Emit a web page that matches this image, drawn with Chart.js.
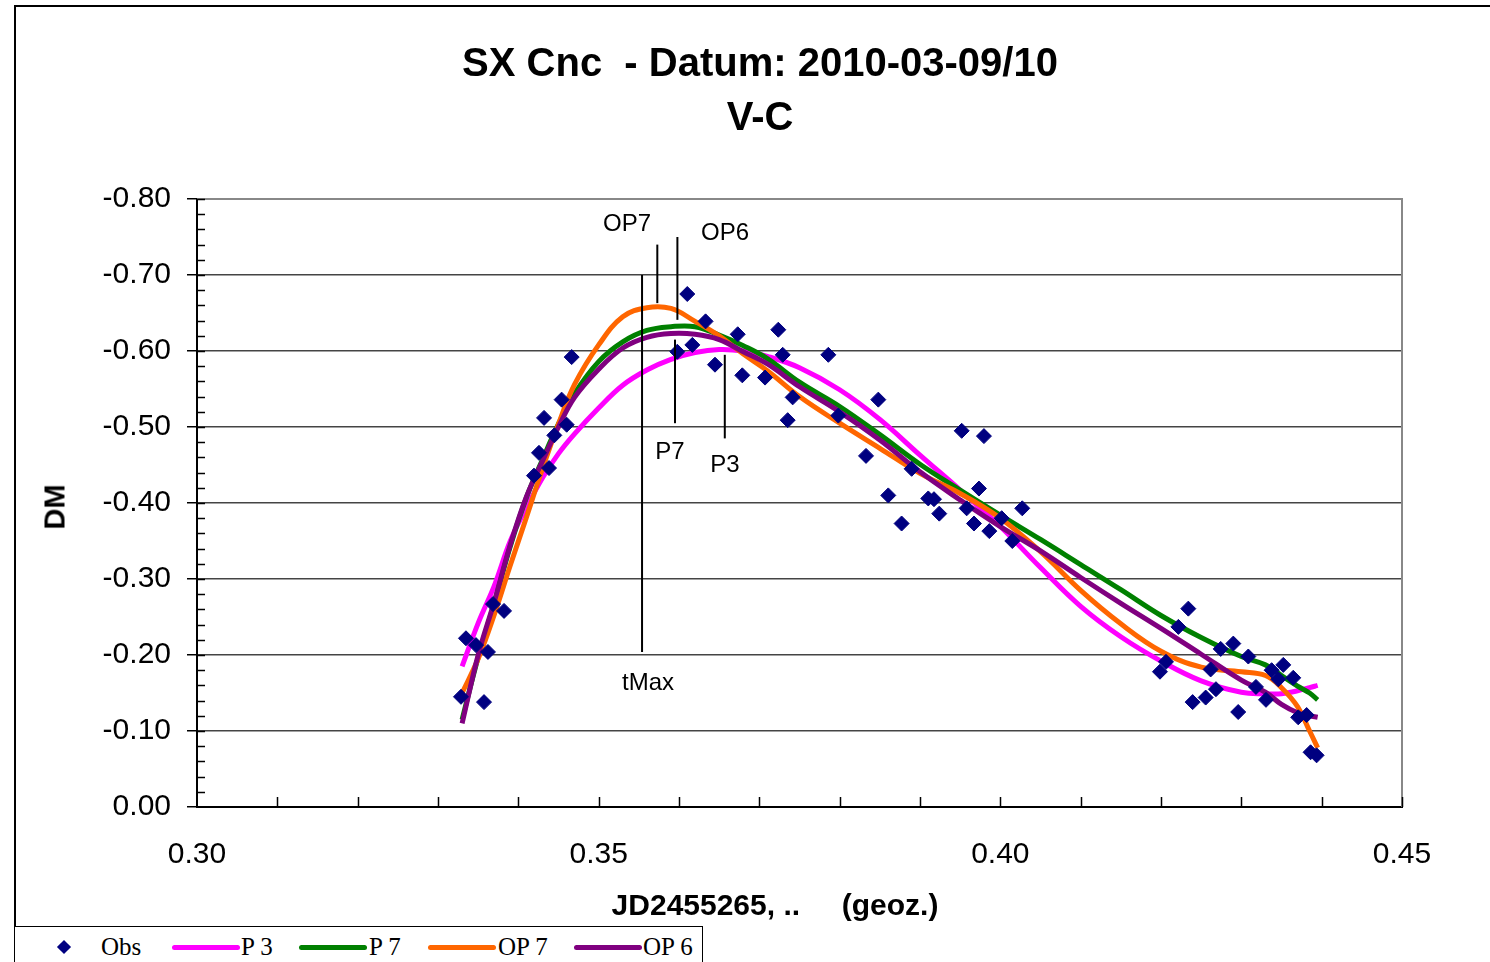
<!DOCTYPE html>
<html>
<head>
<meta charset="utf-8">
<script src="https://cdn.jsdelivr.net/npm/chart.js@4.4.1/dist/chart.umd.min.js"></script>
<style>
  body { margin: 0; width: 1490px; height: 962px; overflow: hidden; background: #fff; font-family: 'Liberation Sans', Arial, sans-serif; position: relative; }
  #frame { position: absolute; left: 14px; top: 5px; width: 1600px; height: 1100px; border-left: 2px solid #000; border-top: 2px solid #000; }
  #chart { position: absolute; left: 0; top: 0; }
  .title { position: absolute; left: 0; top: 35px; width: 1520px; text-align: center; font-weight: bold; font-size: 40px; line-height: 54px; white-space: pre; color: #000; }
  #ytitle { position: absolute; left: 55px; top: 507px; transform: translate(-50%, -50%) rotate(-90deg); font-weight: bold; font-size: 29px; white-space: pre; }
  #xtitle { position: absolute; left: 775px; top: 890px; transform: translateX(-50%); font-weight: bold; font-size: 30px; line-height: 30px; white-space: pre; }
  #legend { position: absolute; left: 14px; top: 926px; width: 687px; height: 60px; border: 1.5px solid #000; background: #fff; font-family: 'Liberation Serif', 'Times New Roman', serif; font-size: 25px; }
  #legend .item { position: absolute; top: 5px; line-height: 30px; white-space: pre; }
  #legend .swatch { position: absolute; top: 18px; height: 5px; width: 68px; border-radius: 3px; }
  #legend .dia { position: absolute; left: 44px; top: 15px; width: 10px; height: 10px; background: #000080; transform: rotate(45deg); }
</style>
</head>
<body>
<div id="frame"></div>
<canvas id="chart" width="1490" height="962"></canvas>
<div class="title">SX Cnc  - Datum: 2010-03-09/10<br>V-C</div>
<div id="ytitle">DM</div>
<div id="xtitle">JD2455265, ..     (geoz.)</div>
<div id="legend"></div>
<script>
// observed points
const obsX = [0.33286, 0.33348, 0.33473, 0.33573, 0.33622, 0.33685, 0.33822, 0.34195, 0.34257, 0.34320,
  0.34382, 0.34448, 0.34539, 0.34602, 0.34664, 0.35979, 0.36103, 0.36166, 0.36331, 0.36448,
  0.36731, 0.36788, 0.37071, 0.37236, 0.37291, 0.37353, 0.37415, 0.37859, 0.37983, 0.38328,
  0.38481, 0.38605, 0.38771, 0.38896, 0.39103, 0.39174, 0.39240, 0.39519, 0.39581, 0.39672,
  0.39734, 0.39796, 0.39863, 0.40017, 0.40149, 0.40273, 0.41987, 0.42062, 0.42216, 0.42340,
  0.42394, 0.42556, 0.42618, 0.42684, 0.42743, 0.42900, 0.42961, 0.43087, 0.43182, 0.43307,
  0.43377, 0.43460, 0.43522, 0.43646, 0.43708, 0.43813, 0.43862, 0.43937];
const obsY = [-0.145, -0.222, -0.213, -0.138, -0.204, -0.267, -0.258, -0.436, -0.466, -0.512,
  -0.446, -0.489, -0.536, -0.503, -0.592, -0.599, -0.675, -0.608, -0.639, -0.582,
  -0.622, -0.568, -0.565, -0.628, -0.595, -0.509, -0.539, -0.595, -0.515, -0.462,
  -0.536, -0.410, -0.373, -0.445, -0.406, -0.405, -0.386, -0.495, -0.393, -0.373,
  -0.419, -0.488, -0.363, -0.380, -0.350, -0.393, -0.178, -0.191, -0.237, -0.261,
  -0.138, -0.144, -0.181, -0.155, -0.208, -0.215, -0.125, -0.198, -0.158, -0.141,
  -0.180, -0.168, -0.187, -0.170, -0.118, -0.121, -0.072, -0.068];

const fitX = [0.333, 0.335, 0.337, 0.339, 0.341, 0.343, 0.345, 0.347, 0.350, 0.353,
  0.356, 0.359, 0.362, 0.365, 0.368, 0.371, 0.375, 0.380, 0.385, 0.390,
  0.395, 0.400, 0.405, 0.410, 0.415, 0.420, 0.425, 0.430, 0.433, 0.435,
  0.437, 0.4385, 0.4395];
const p3 = [-0.185, -0.242, -0.291, -0.350, -0.394, -0.433, -0.465, -0.491, -0.525, -0.555,
  -0.575, -0.589, -0.598, -0.602, -0.600, -0.593, -0.578, -0.549, -0.510, -0.463,
  -0.417, -0.369, -0.315, -0.264, -0.224, -0.192, -0.166, -0.151, -0.149, -0.149,
  -0.153, -0.157, -0.160];
const p7 = [-0.115, -0.197, -0.268, -0.343, -0.407, -0.457, -0.504, -0.544, -0.586, -0.612,
  -0.627, -0.632, -0.632, -0.621, -0.607, -0.590, -0.559, -0.527, -0.490, -0.451,
  -0.417, -0.384, -0.352, -0.319, -0.286, -0.252, -0.223, -0.198, -0.187, -0.173,
  -0.159, -0.150, -0.141];
const op7 = [-0.150, -0.195, -0.253, -0.318, -0.381, -0.445, -0.504, -0.556, -0.608, -0.645,
  -0.657, -0.656, -0.639, -0.620, -0.596, -0.574, -0.540, -0.505, -0.472, -0.439,
  -0.4125, -0.380, -0.336, -0.285, -0.241, -0.205, -0.184, -0.178, -0.173, -0.157,
  -0.132, -0.100, -0.078];
const op6 = [-0.110, -0.200, -0.270, -0.345, -0.408, -0.455, -0.500, -0.539, -0.576, -0.604,
  -0.618, -0.623, -0.622, -0.615, -0.599, -0.583, -0.553, -0.520, -0.483, -0.441,
  -0.404, -0.369, -0.337, -0.302, -0.268, -0.235, -0.201, -0.167, -0.151, -0.135,
  -0.124, -0.120, -0.118];

// vertical marker lines (tMax and the maxima of each fit)
const markerNames = ['tMax', 'OP7', 'OP6', 'P7', 'P3'];
const markerX = [0.3554, 0.3573, 0.3598, 0.3595, 0.3657];
const markerTop = [-0.700, -0.740, -0.750, -0.615, -0.595];
const markerBottom = [-0.204, -0.663, -0.641, -0.505, -0.485];
const labelX = [0.35614, 0.35353, 0.36573, 0.35888, 0.36573];
const labelY = [-0.163, -0.766, -0.755, -0.466, -0.449];

const seriesNames = ['P 3', 'P 7', 'OP 7', 'OP 6'];
const seriesColors = ['#FF00FF', '#008000', '#FF6600', '#800080'];
const seriesData = [p3, p7, op7, op6];

const FONT = "'Liberation Sans', Arial, sans-serif";

function toPoints(xs, ys) {
  return xs.map((x, i) => ({ x: x, y: ys[i] }));
}

const extras = {
  id: 'extras',
  beforeDatasetsDraw(chart) {
    const { ctx, chartArea: a, scales: { x, y } } = chart;
    ctx.save();
    // plot area border top/right
    ctx.strokeStyle = '#888';
    ctx.lineWidth = 2;
    ctx.beginPath();
    ctx.moveTo(a.left, a.top);
    ctx.lineTo(a.right, a.top);
    ctx.lineTo(a.right, a.bottom);
    ctx.stroke();
    // minor ticks, inside
    ctx.strokeStyle = '#000';
    ctx.lineWidth = 1.5;
    ctx.beginPath();
    for (let i = 1; i <= 15; i++) {
      const px = Math.round(x.getPixelForValue(0.30 + i * 0.01)) + 0.5;
      ctx.moveTo(px, a.bottom);
      ctx.lineTo(px, a.bottom - 10);
    }
    for (let i = 0; i < 40; i++) {
      const py = Math.round(y.getPixelForValue(-0.80 + i * 0.02)) + 0.5;
      ctx.moveTo(a.left, py);
      ctx.lineTo(a.left + 8, py);
    }
    ctx.stroke();
    ctx.restore();
  },
  afterDatasetsDraw(chart) {
    const { ctx, scales: { x, y } } = chart;
    ctx.save();
    ctx.strokeStyle = '#000';
    ctx.lineWidth = 2;
    markerX.forEach((mx, i) => {
      const px = x.getPixelForValue(mx);
      ctx.beginPath();
      ctx.moveTo(px, y.getPixelForValue(markerTop[i]));
      ctx.lineTo(px, y.getPixelForValue(markerBottom[i]));
      ctx.stroke();
    });
    ctx.fillStyle = '#000';
    ctx.font = '24px ' + FONT;
    ctx.textAlign = 'center';
    ctx.textBaseline = 'middle';
    markerNames.forEach((name, i) => {
      ctx.fillText(name, x.getPixelForValue(labelX[i]), y.getPixelForValue(labelY[i]));
    });
    ctx.restore();
  }
};

const datasets = [{
  label: 'Obs',
  type: 'scatter',
  data: toPoints(obsX, obsY),
  pointStyle: 'rectRot',
  pointRadius: 7.5,
  backgroundColor: '#000080',
  borderColor: '#000080',
  borderWidth: 1,
  order: 0
}];
seriesNames.forEach((name, i) => {
  datasets.push({
    label: name,
    type: 'line',
    data: toPoints(fitX, seriesData[i]),
    borderColor: seriesColors[i],
    borderWidth: 5,
    pointRadius: 0,
    fill: false,
    tension: 0.4,
    order: 4 - i
  });
});

new Chart(document.getElementById('chart'), {
  data: { datasets: datasets },
  plugins: [extras],
  options: {
    responsive: false,
    animation: false,
    events: [],
    layout: { padding: { left: 0, top: 199, right: 88, bottom: 0 } },
    plugins: { legend: { display: false }, tooltip: { enabled: false } },
    scales: {
      x: {
        type: 'linear',
        min: 0.30,
        max: 0.45,
        afterFit: (s) => { s.height = 155; },
        afterBuildTicks: (s) => { s.ticks = [0.30, 0.35, 0.40, 0.45].map(v => ({ value: v })); },
        ticks: { callback: (v) => v.toFixed(2), font: { family: FONT, size: 30 }, color: '#000', padding: 30, maxRotation: 0 },
        grid: { display: false, drawTicks: false },
        border: { display: true, color: '#000', width: 2 }
      },
      y: {
        type: 'linear',
        min: -0.8,
        max: 0,
        reverse: true,
        afterFit: (s) => { s.width = 197; },
        afterBuildTicks: (s) => { s.ticks = [-0.8, -0.7, -0.6, -0.5, -0.4, -0.3, -0.2, -0.1, 0].map(v => ({ value: v })); },
        ticks: { callback: (v) => Math.abs(v) < 1e-9 ? '0.00' : v.toFixed(2), font: { family: FONT, size: 30 }, color: '#000', padding: 16 },
        grid: { color: '#444', lineWidth: 1.5, tickLength: 10, tickColor: '#000', tickWidth: 1.5 },
        border: { display: true, color: '#000', width: 2 }
      }
    }
  }
});

// legend
const legend = document.getElementById('legend');
legend.innerHTML = '<div class="dia"></div><div class="item" style="left:86px">Obs</div>';
const swatchLeft = [157, 284, 413, 559];
const textLeft = [226, 354, 483, 628];
seriesNames.forEach((name, i) => {
  legend.innerHTML += '<div class="swatch" style="left:' + swatchLeft[i] + 'px;background:' + seriesColors[i] + '"></div>' +
    '<div class="item" style="left:' + textLeft[i] + 'px">' + name + '</div>';
});
</script>
</body>
</html>
